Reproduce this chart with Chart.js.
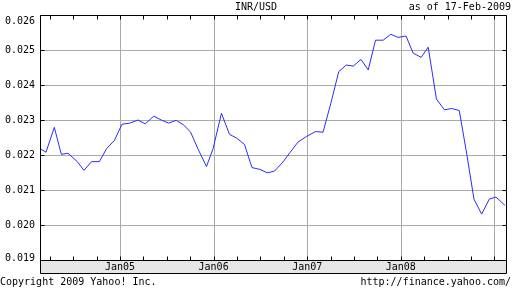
<!DOCTYPE html>
<html><head><meta charset="utf-8">
<script src="https://cdn.jsdelivr.net/npm/chart.js@4/dist/chart.umd.min.js"></script>
<style>html,body{margin:0;padding:0;background:#fff;overflow:hidden}#wrap{width:512px;height:288px;position:relative}</style>
</head><body><div id="wrap"><canvas id="c" width="512" height="288"></canvas></div>
<script>
const titleText = "INR/USD";
const asOfText = "as of 17-Feb-2009";
const copyrightText = "Copyright 2009 Yahoo! Inc.";
const sourceText = "http://finance.yahoo.com/";

// dates as fractional years
const dates = [
  2004.145, 2004.209, 2004.298, 2004.373, 2004.444, 2004.544, 2004.615, 2004.696, 2004.779, 2004.856,
  2004.941, 2005.021, 2005.104, 2005.192, 2005.270, 2005.360, 2005.441, 2005.520, 2005.601, 2005.678,
  2005.753, 2005.839, 2005.924, 2005.994, 2006.084, 2006.170, 2006.248, 2006.330, 2006.410, 2006.494,
  2006.574, 2006.651, 2006.741, 2006.816, 2006.902, 2006.993, 2007.089, 2007.169, 2007.251, 2007.337,
  2007.417, 2007.491, 2007.575, 2007.652, 2007.730, 2007.812, 2007.893, 2007.972, 2008.056, 2008.132,
  2008.218, 2008.293, 2008.381, 2008.467, 2008.544, 2008.625, 2008.705, 2008.782, 2008.864, 2008.946,
  2009.017, 2009.113
];
const rates = [
  0.02218, 0.02208, 0.02279, 0.02202, 0.02205, 0.02181, 0.02156, 0.02181, 0.02181, 0.02218,
  0.02242, 0.02288, 0.02291, 0.02300, 0.02289, 0.02311, 0.02300, 0.02291, 0.02299, 0.02286,
  0.02266, 0.02214, 0.02167, 0.02218, 0.02319, 0.02259, 0.02248, 0.02230, 0.02164, 0.02159,
  0.02149, 0.02154, 0.02180, 0.02207, 0.02237, 0.02253, 0.02267, 0.02265, 0.02346, 0.02438,
  0.02457, 0.02454, 0.02473, 0.02443, 0.02528, 0.02528, 0.02545, 0.02536, 0.02540, 0.02491,
  0.02479, 0.02508, 0.02360, 0.02329, 0.02333, 0.02327, 0.02203, 0.02074, 0.02031, 0.02074,
  0.02080, 0.02056
];
const yTicks = [0.019, 0.020, 0.021, 0.022, 0.023, 0.024, 0.025, 0.026];
const yearTicks = [2005, 2006, 2007, 2008, 2009];
const yearLabels = ["Jan05", "Jan06", "Jan07", "Jan08", ""];
const quarterTicks = [2004.25, 2004.5, 2004.75, 2005.25, 2005.5, 2005.75, 2006.25, 2006.5, 2006.75,
  2007.25, 2007.5, 2007.75, 2008.25, 2008.5, 2008.75];
const xMin = 2004.145, xMax = 2009.135;

const FONT = '10px "DejaVu Sans Mono", "Liberation Mono", monospace';

const frame = {
  id: 'frame',
  beforeDatasetsDraw(chart) {
    const {ctx, chartArea: a, scales: {x, y}} = chart;
    ctx.save();
    const L = Math.round(a.left) + 0.5, R = Math.round(a.right) - 0.5;
    const T = Math.round(a.top) + 0.5, B = Math.round(a.bottom) + 0.5;
    // grid
    ctx.strokeStyle = '#aaaaaa'; ctx.lineWidth = 1;
    ctx.beginPath();
    yTicks.forEach(v => {
      const py = Math.round(y.getPixelForValue(v)) + 0.5;
      if (py > T + 1 && py < B - 1) { ctx.moveTo(L, py); ctx.lineTo(R, py); }
    });
    yearTicks.forEach(v => {
      const px = Math.round(x.getPixelForValue(v)) + 0.5;
      ctx.moveTo(px, T); ctx.lineTo(px, B);
    });
    ctx.stroke();
    ctx.restore();
  },
  afterDatasetsDraw(chart) {
    const {ctx, chartArea: a, scales: {x, y}} = chart;
    ctx.save();
    const L = Math.round(a.left) + 0.5, R = Math.round(a.right) - 0.5;
    const T = Math.round(a.top) + 0.5, B = Math.round(a.bottom) + 0.5;
    const bandH = 13;
    // band
    ctx.fillStyle = '#e6e6e6';
    ctx.fillRect(L, B, R - L, bandH);
    ctx.strokeStyle = '#000'; ctx.lineWidth = 1;
    ctx.beginPath();
    ctx.rect(L, T, R - L, B - T);
    ctx.rect(L, B, R - L, bandH);
    // ticks
    yTicks.forEach(v => {
      const py = Math.round(y.getPixelForValue(v)) + 0.5;
      ctx.moveTo(L, py); ctx.lineTo(L + 4, py);
      ctx.moveTo(R, py); ctx.lineTo(R - 4, py);
    });
    yearTicks.concat(quarterTicks).forEach(v => {
      const px = Math.round(x.getPixelForValue(v)) + 0.5;
      ctx.moveTo(px, B); ctx.lineTo(px, B - 4);
      ctx.moveTo(px, T); ctx.lineTo(px, T + 4);
    });
    ctx.stroke();
    // texts
    ctx.fillStyle = '#000';
    ctx.font = FONT;
    ctx.textBaseline = 'middle';
    ctx.textAlign = 'right';
    yTicks.forEach(v => {
      let py = y.getPixelForValue(v);
      if (v === yTicks[yTicks.length - 1]) py = a.top + 6;
      if (v === yTicks[0]) py = a.bottom - 2;
      ctx.fillText(v.toFixed(3), 35, py);
    });
    ctx.textAlign = 'center';
    yearTicks.forEach((v, i) => {
      ctx.fillText(yearLabels[i], x.getPixelForValue(v), B + 7);
    });
    ctx.fillText(titleText, 256, 7);
    ctx.textAlign = 'right';
    ctx.fillText(asOfText, 511, 7);
    ctx.fillText(sourceText, 511, 282);
    ctx.textAlign = 'left';
    ctx.fillText(copyrightText, 0, 282);
    ctx.restore();
  }
};

new Chart(document.getElementById('c'), {
  type: 'line',
  data: {
    datasets: [{
      label: titleText,
      data: dates.map((d, i) => ({x: d, y: rates[i]})),
      borderColor: '#2b2bff',
      borderWidth: 1,
      pointRadius: 0,
      tension: 0,
      fill: false
    }]
  },
  options: {
    responsive: false,
    animation: false,
    devicePixelRatio: 1,
    layout: {padding: {left: 40, right: 5, top: 15, bottom: 28}},
    scales: {
      x: {type: 'linear', min: xMin, max: xMax, display: false},
      y: {min: 0.019, max: 0.026, display: false}
    },
    plugins: {legend: {display: false}, tooltip: {enabled: false}}
  },
  plugins: [frame]
});
</script>
</body></html>
